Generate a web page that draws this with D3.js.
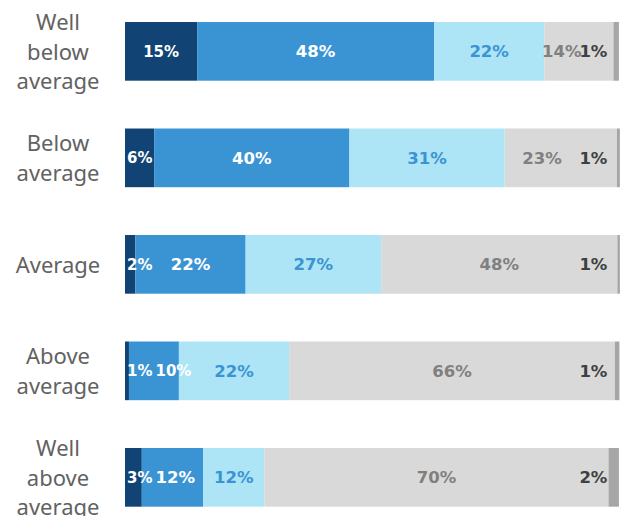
<!DOCTYPE html>
<html><head><meta charset="utf-8">
<script src="https://cdn.jsdelivr.net/npm/d3@7"></script>
<style>body{margin:0;background:#fff;overflow:hidden} svg{display:block}</style>
</head><body>
<svg id="c" width="620" height="516"></svg>
<script>
// ---- data ----
const categories = ["Well below average","Below average","Average","Above average","Well above average"];
const categoryLines = [["Well","below","average"],["Below","average"],["Average"],["Above","average"],["Well","above","average"]];
const seriesKeys = ["s1","s2","s3","s4","s5"];
const s1 = [14.6, 5.9, 2.1, 0.8, 3.4];
const s2 = [47.9, 39.5, 22.3, 10.1, 12.4];
const s3 = [22.3, 31.4, 27.4, 22.3, 12.4];
const s4 = [14.0, 22.7, 47.8, 65.9, 69.6];
const s5 = [1.1, 0.6, 0.5, 0.9, 2.1];
const seriesValues = [s1, s2, s3, s4, s5];

// ---- styles ----
const fills = ["#114474", "#3a94d4", "#ade4f6", "#d9d9d9", "#a6a6a6"];
const labelColors = ["#ffffff", "#ffffff", "#3a94d4", "#808080", "#404040"];

const rows = categories.map((c, i) => {
  const o = {category: c};
  seriesKeys.forEach((k, j) => o[k] = seriesValues[j][i]);
  return o;
});

const svg = d3.select("#c");
const x = d3.scaleLinear().domain([0, 100]).range([125, 619.4]);
const y = d3.scaleBand().domain(categories).range([-25.8, 554.5]).padding(0.449);

const stacked = d3.stack().keys(seriesKeys)(rows);

const g = svg.append("g");
stacked.forEach((layer, j) => {
  g.selectAll(null).data(layer).enter().append("rect")
    .attr("x", d => x(d[0]))
    .attr("y", d => y(d.data.category))
    .attr("width", d => Math.max(0, x(d[1]) - x(d[0])))
    .attr("height", y.bandwidth())
    .attr("fill", fills[j]);
});

// category labels
const lh = 29.5;
categories.forEach((c, i) => {
  const lines = categoryLines[i];
  const cy = y(c) + y.bandwidth() / 2;
  const t = svg.append("text")
    .attr("text-anchor", "middle")
    .attr("font-family", "'Noto Sans', sans-serif")
    .attr("font-size", 22)
    .attr("fill", "#626262");
  lines.forEach((ln, k) => {
    t.append("tspan").attr("x", 58)
      .attr("y", cy + (k - (lines.length - 1) / 2) * lh)
      .attr("dy", "0.38em").text(ln);
  });
});

// value labels
const fmt = v => Math.round(v) + "%";
categories.forEach((c, i) => {
  const cy = y(c) + y.bandwidth() / 2;
  const segs = stacked.map(layer => layer[i]);
  const nodes = segs.map((d, j) => {
    const w = x(d[1]) - x(d[0]);
    const size = (j === 0 || (j < 4 && w < 55)) ? 15 : 16.5;
    const t = svg.append("text")
      .attr("font-family", "'DejaVu Sans', sans-serif")
      .attr("font-weight", "bold")
      .attr("font-size", size)
      .attr("fill", labelColors[j])
      .attr("y", cy).attr("dy", "0.36em")
      .attr("text-anchor", "middle")
      .text(fmt(d[1] - d[0]));
    return {t, d, w, tw: t.node().getComputedTextLength()};
  });
  // last label anchored near bar end
  const last = nodes[4];
  const lastRight = x(100) - 12;
  last.t.attr("text-anchor", "end").attr("x", lastRight);
  const lastLeft = lastRight - last.tw;
  let prevRight = -Infinity;
  for (let j = 0; j < 4; j++) {
    const n = nodes[j];
    let cx = (x(n.d[0]) + x(n.d[1])) / 2;
    if (j === 0 && n.tw + 8 > n.w) cx = x(n.d[0]) + 2 + n.tw / 2;
    if (cx - n.tw / 2 < prevRight + 3) cx = prevRight + 3 + n.tw / 2;
    if (j === 3 && cx + n.tw / 2 > lastLeft - 3) cx = (x(n.d[0]) + lastLeft) / 2;
    n.t.attr("x", cx);
    prevRight = cx + n.tw / 2;
  }
});
</script>
</body></html>
